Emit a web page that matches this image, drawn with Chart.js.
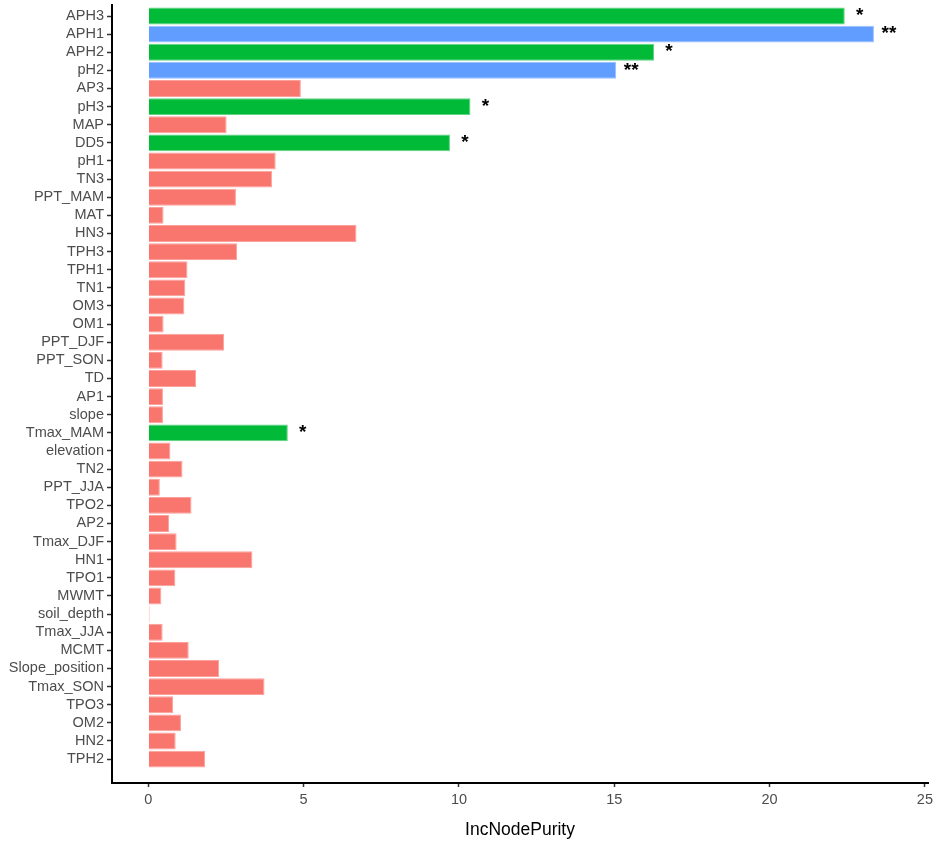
<!DOCTYPE html>
<html>
<head>
<meta charset="utf-8">
<style>
  html, body { margin: 0; padding: 0; background: #fff; }
  #wrap { position: relative; width: 935px; height: 846px; }
</style>
</head>
<body>
<div id="wrap">
    <canvas id="myChart"></canvas>
</div>

<script src="https://cdn.jsdelivr.net/npm/chart.js@4.4.1/dist/chart.umd.min.js"></script>

<script>
    // variables, top to bottom as in the figure
    const labels = ['APH3', 'APH1', 'APH2', 'pH2', 'AP3', 'pH3', 'MAP', 'DD5', 'pH1', 'TN3',
        'PPT_MAM', 'MAT', 'HN3', 'TPH3', 'TPH1', 'TN1', 'OM3', 'OM1', 'PPT_DJF', 'PPT_SON',
        'TD', 'AP1', 'slope', 'Tmax_MAM', 'elevation', 'TN2', 'PPT_JJA', 'TPO2', 'AP2', 'Tmax_DJF',
        'HN1', 'TPO1', 'MWMT', 'soil_depth', 'Tmax_JJA', 'MCMT', 'Slope_position', 'Tmax_SON', 'TPO3', 'OM2',
        'HN2', 'TPH2'];

    const purity = [22.42, 23.36, 16.28, 15.06, 4.91, 10.37, 2.52, 9.71, 4.10, 3.98,
        2.82, 0.49, 6.70, 2.86, 1.26, 1.19, 1.16, 0.49, 2.44, 0.46,
        1.54, 0.47, 0.47, 4.49, 0.71, 1.10, 0.37, 1.39, 0.67, 0.91,
        3.35, 0.87, 0.42, 0.04, 0.46, 1.30, 2.28, 3.74, 0.80, 1.05,
        0.88, 1.83];

    const signif = ['*', '**', '*', '**', '', '*', '', '*', '', '',
        '', '', '', '', '', '', '', '', '', '',
        '', '', '', '*', '', '', '', '', '', '',
        '', '', '', '', '', '', '', '', '', '',
        '', ''];

    const xTicks = [0, 5, 10, 15, 20, 25];

    const fill = { '': '#F8766D', '*': '#00BA38', '**': '#619CFF' };
    const edge = { '': '#FBA09A', '*': '#5FD284', '**': '#9AC0FF' };

    const points = purity.map((v, i) => ({ x: v, y: i }));

    // asterisks next to the significant bars
    const starPlugin = {
        id: 'stars',
        afterDatasetsDraw(chart) {
            const ctx = chart.ctx;
            const xs = chart.scales.x, ys = chart.scales.y;
            ctx.save();
            ctx.fillStyle = '#000';
            ctx.font = 'bold 19px "Liberation Sans", Arial, sans-serif';
            ctx.textAlign = 'center';
            ctx.textBaseline = 'middle';
            signif.forEach((s, i) => {
                if (!s) return;
                ctx.fillText(s, xs.getPixelForValue(purity[i]) + 15, ys.getPixelForValue(i));
            });
            ctx.restore();
        }
    };

    const ctx = document.getElementById('myChart').getContext('2d');
    const myChart = new Chart(ctx, {
        type: 'bar',
        data: {
            datasets: [{
                data: points,
                backgroundColor: signif.map(s => fill[s]),
                borderColor: signif.map(s => edge[s]),
                borderWidth: 1,
                barPercentage: 0.93,
                categoryPercentage: 1
            }]
        },
        options: {
            indexAxis: 'y',
            responsive: true,
            maintainAspectRatio: false,
            animation: false,
            layout: { padding: { top: 5, right: 7, left: 0, bottom: 0 } },
            plugins: {
                legend: { display: false },
                tooltip: { enabled: false }
            },
            scales: {
                x: {
                    type: 'linear',
                    min: -1.17,
                    max: 25.1,
                    afterBuildTicks: s => { s.ticks = xTicks.map(v => ({ value: v })); },
                    afterFit: s => { s.height = 63; s.paddingLeft = 0; s.paddingRight = 0; },
                    grid: { drawOnChartArea: false, offset: false, tickLength: 4, tickColor: '#333', tickWidth: 1.5 },
                    border: { color: '#000', width: 2 },
                    ticks: {
                        color: '#4D4D4D',
                        padding: 4,
                        font: { family: '"Liberation Sans", Arial, sans-serif', size: 14.5 }
                    },
                    title: {
                        display: true,
                        text: 'IncNodePurity',
                        color: '#000',
                        padding: { top: 0, bottom: 5 },
                        font: { family: '"Liberation Sans", Arial, sans-serif', size: 17.5 }
                    }
                },
                y: {
                    type: 'linear',
                    reverse: true,
                    offset: false,
                    min: -0.607,
                    max: 42.32,
                    afterBuildTicks: s => { s.ticks = labels.map((l, i) => ({ value: i })); },
                    afterFit: s => { s.width = 112; s.paddingTop = 0; s.paddingBottom = 0; },
                    grid: { drawOnChartArea: false, offset: false, tickLength: 5, tickColor: '#333', tickWidth: 1.5 },
                    border: { color: '#000', width: 2 },
                    ticks: {
                        autoSkip: false,
                        color: '#4D4D4D',
                        padding: 3,
                        callback: v => labels[v],
                        font: { family: '"Liberation Sans", Arial, sans-serif', size: 14.5 }
                    }
                }
            }
        },
        plugins: [starPlugin]
    });
</script>
</body>
</html>
